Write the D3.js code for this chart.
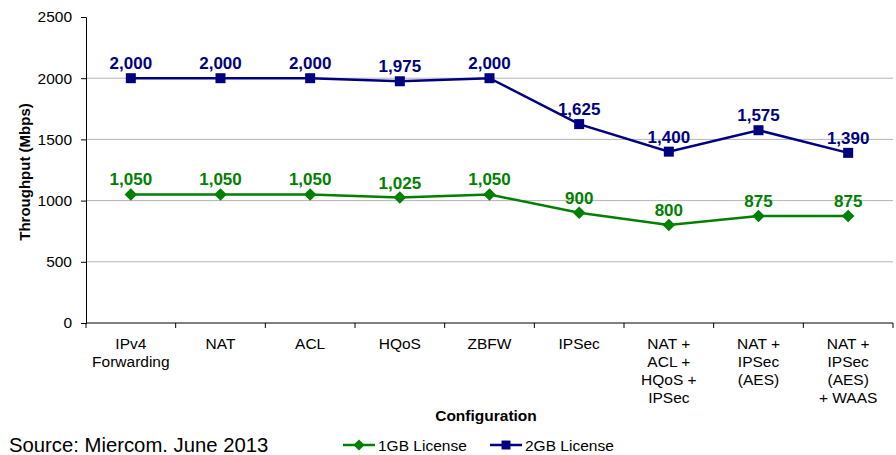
<!DOCTYPE html>
<html>
<head>
<meta charset="utf-8">
<script src="https://cdn.jsdelivr.net/npm/d3@7"></script>
<style>
  body { margin: 0; background: #fff; }
  text { font-family: "Liberation Sans", Arial, sans-serif; }
</style>
</head>
<body>
<div class="chart"></div>
<script>
// chart data
const categories = [
  ["IPv4", "Forwarding"],
  ["NAT"],
  ["ACL"],
  ["HQoS"],
  ["ZBFW"],
  ["IPSec"],
  ["NAT +", "ACL +", "HQoS +", "IPSec"],
  ["NAT +", "IPSec", "(AES)"],
  ["NAT +", "IPSec", "(AES)", "+ WAAS"]
];
const license1GB = [1050, 1050, 1050, 1025, 1050, 900, 800, 875, 875];
const license2GB = [2000, 2000, 2000, 1975, 2000, 1625, 1400, 1575, 1390];
const yTicks = [0, 500, 1000, 1500, 2000, 2500];
const seriesNames = ["1GB License", "2GB License"];

const width = 896, height = 455;
const margin = {top: 17, left: 86, bottom: 132, right: 3};
const innerW = width - margin.left - margin.right;
const innerH = height - margin.top - margin.bottom;

const green = "#008000", navy = "#000080";

const svg = d3.select('.chart').append('svg')
    .attr('width', width)
    .attr('height', height);

const g = svg.append('g')
    .attr('transform', 'translate(' + margin.left + ',' + margin.top + ')');

const xScale = d3.scaleBand()
    .domain(d3.range(categories.length))
    .range([0, innerW]);

const yScale = d3.scaleLinear()
    .domain([0, 2500])
    .range([innerH, 0]);

// gridlines
g.selectAll('.grid')
    .data(yTicks.filter(d => d > 0 && d < 2500))
    .enter()
    .append('line')
    .attr('class', 'grid')
    .attr('x1', 0)
    .attr('x2', innerW)
    .attr('y1', d => yScale(d))
    .attr('y2', d => yScale(d))
    .attr('stroke', '#b4b4b4')
    .attr('stroke-width', 1);

// y axis
const yAxis = d3.axisLeft(yScale)
    .tickValues(yTicks)
    .tickSize(5)
    .tickPadding(9)
    .tickFormat(d3.format('d'));

const yG = g.append('g').call(yAxis);
yG.select('.domain').attr('stroke', '#000');
yG.selectAll('.tick line').attr('stroke', '#000');
yG.selectAll('.tick text')
    .attr('font-size', 15.5)
    .attr('font-family', '"Liberation Sans", Arial, sans-serif')
    .attr('fill', '#000');

// x axis (ticks at band boundaries)
g.append('line')
    .attr('x1', 0).attr('x2', innerW)
    .attr('y1', innerH).attr('y2', innerH)
    .attr('stroke', '#000');

g.selectAll('.xtick')
    .data(d3.range(categories.length + 1))
    .enter()
    .append('line')
    .attr('class', 'xtick')
    .attr('x1', d => d * xScale.step())
    .attr('x2', d => d * xScale.step())
    .attr('y1', innerH)
    .attr('y2', innerH + 5)
    .attr('stroke', '#000');

const xLabels = g.selectAll('.xlabel')
    .data(categories)
    .enter()
    .append('text')
    .attr('class', 'xlabel')
    .attr('text-anchor', 'middle')
    .attr('font-size', 15.5)
    .attr('fill', '#000')
    .attr('transform', (d, i) => 'translate(' + (xScale(i) + xScale.bandwidth() / 2) + ',' + (innerH + 26) + ')');

xLabels.selectAll('tspan')
    .data(d => d)
    .enter()
    .append('tspan')
    .attr('x', 0)
    .attr('y', (d, i) => i * 18)
    .text(d => d);

// axis titles
svg.append('text')
    .attr('text-anchor', 'middle')
    .attr('font-size', 15)
    .attr('font-weight', 'bold')
    .attr('transform', 'translate(30,172) rotate(-90)')
    .text('Throughput (Mbps)');

svg.append('text')
    .attr('text-anchor', 'middle')
    .attr('x', 486)
    .attr('y', 421)
    .attr('font-size', 15.5)
    .attr('font-weight', 'bold')
    .text('Configuration');

svg.append('text')
    .attr('x', 9)
    .attr('y', 452)
    .attr('font-size', 20.3)
    .text('Source: Miercom. June 2013');

// lines + markers
const line = d3.line()
    .x((d, i) => xScale(i) + xScale.bandwidth() / 2)
    .y(d => yScale(d));

const series = [
  {name: seriesNames[0], values: license1GB, color: green, shape: d3.symbolDiamond2, size: 100},
  {name: seriesNames[1], values: license2GB, color: navy, shape: d3.symbolSquare, size: 100}
];

series.forEach(s => {
  g.append('path')
      .datum(s.values)
      .attr('fill', 'none')
      .attr('stroke', s.color)
      .attr('stroke-width', 2.5)
      .attr('d', line);

  g.selectAll(null)
      .data(s.values)
      .enter()
      .append('path')
      .attr('d', d3.symbol().type(s.shape).size(s.size))
      .attr('fill', s.color)
      .attr('transform', (d, i) => 'translate(' + (xScale(i) + xScale.bandwidth() / 2) + ',' + yScale(d) + ')');

  g.selectAll(null)
      .data(s.values)
      .enter()
      .append('text')
      .attr('text-anchor', 'middle')
      .attr('font-size', 17)
      .attr('font-weight', 'bold')
      .attr('fill', s.color)
      .attr('x', (d, i) => xScale(i) + xScale.bandwidth() / 2)
      .attr('y', d => yScale(d) - 9)
      .text(d => d3.format(',')(d));
});

// legend
const legendX = [343, 490];
const legend = svg.selectAll('.legend')
    .data(series)
    .enter()
    .append('g')
    .attr('class', 'legend')
    .attr('transform', (d, i) => 'translate(' + legendX[i] + ',445)');

legend.append('line')
    .attr('x1', 0).attr('x2', 32)
    .attr('y1', 0).attr('y2', 0)
    .attr('stroke', d => d.color)
    .attr('stroke-width', 2.5);

legend.append('path')
    .attr('d', d => d3.symbol().type(d.shape).size(d.size * 0.8)())
    .attr('fill', d => d.color)
    .attr('transform', 'translate(16,0)');

legend.append('text')
    .attr('x', 35)
    .attr('y', 6)
    .attr('font-size', 15.5)
    .attr('fill', '#000')
    .text(d => d.name);
</script>
</body>
</html>
